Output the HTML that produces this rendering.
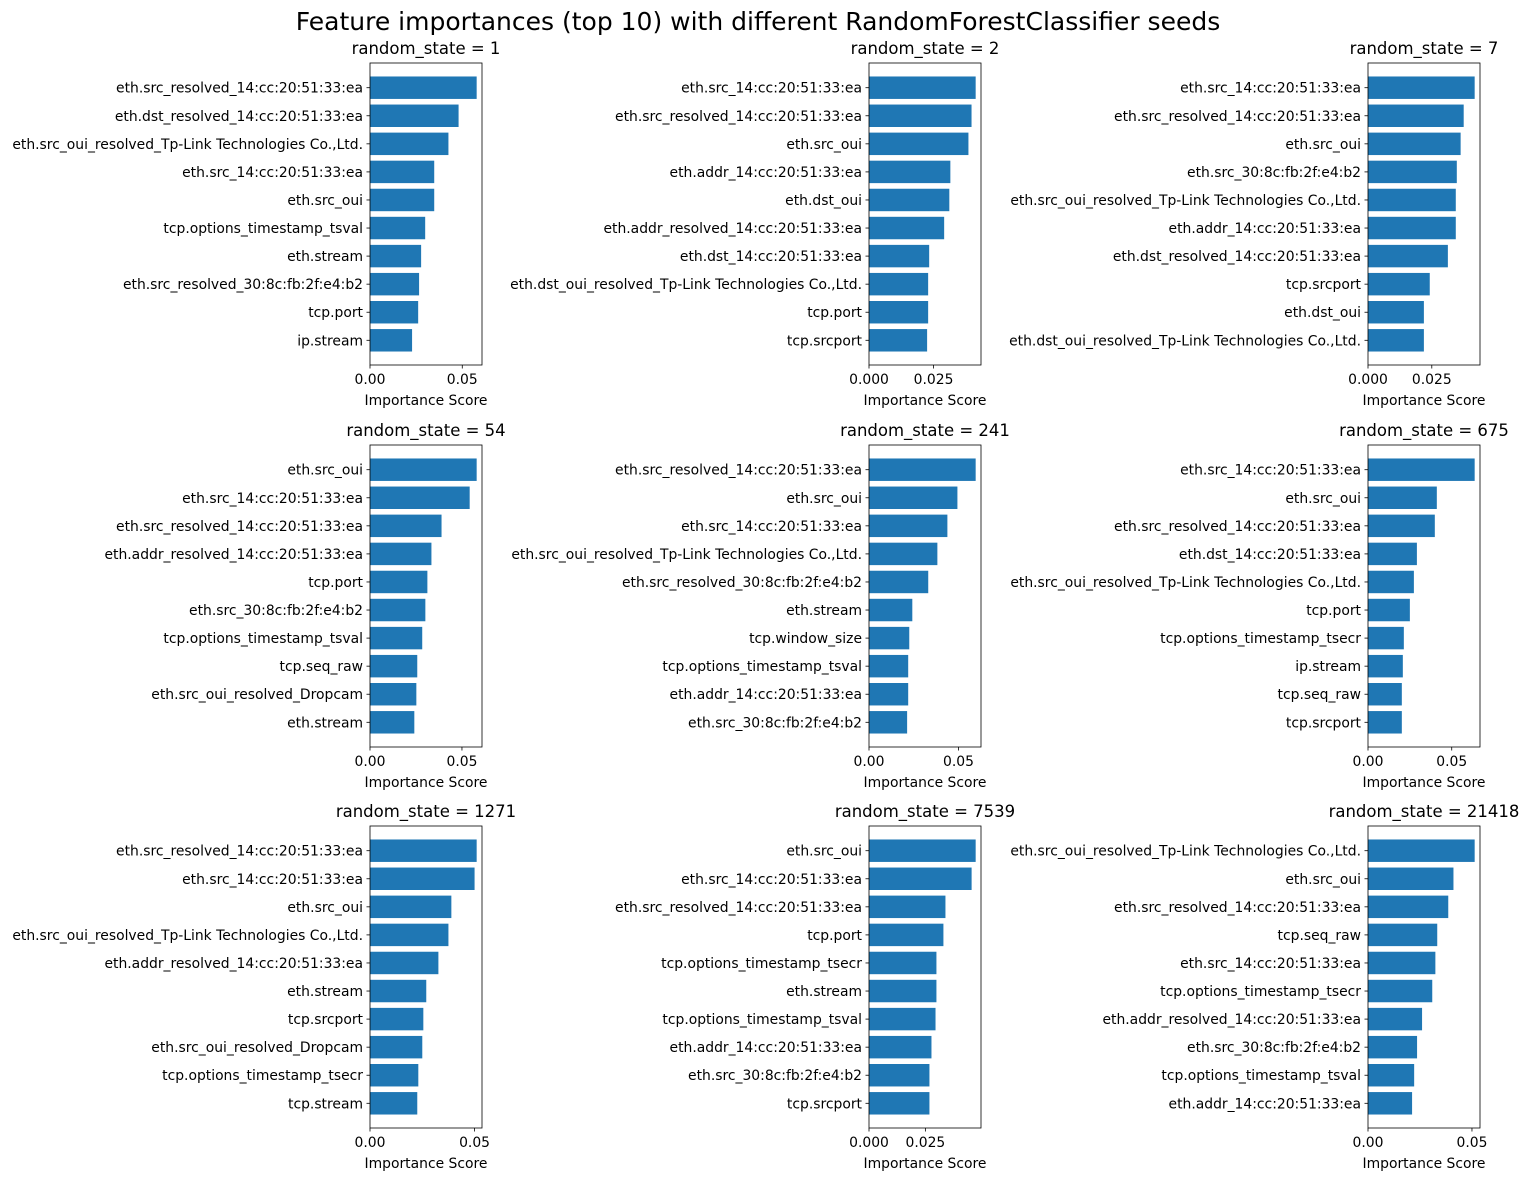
<!DOCTYPE html>
<html><head><meta charset="utf-8"><style>
html,body{margin:0;padding:0;background:#fff;}
svg{display:block;font-family:"DejaVu Sans","Liberation Sans",sans-serif;}
</style></head><body>
<svg id="fig" width="1530" height="1181" viewBox="0 0 1530 1181" xmlns="http://www.w3.org/2000/svg">
<rect width="1530" height="1181" fill="#fff"/>
<text x="758" y="30" font-size="25" text-anchor="middle" fill="#000">Feature importances (top 10) with different RandomForestClassifier seeds</text>
</svg>
<script>
const seeds = [1,2,7,54,241,675,1271,7539,21418];
const labels1 = ["eth.src_resolved_14:cc:20:51:33:ea","eth.dst_resolved_14:cc:20:51:33:ea","eth.src_oui_resolved_Tp-Link Technologies Co.,Ltd.","eth.src_14:cc:20:51:33:ea","eth.src_oui","tcp.options_timestamp_tsval","eth.stream","eth.src_resolved_30:8c:fb:2f:e4:b2","tcp.port","ip.stream"];
const values1 = [0.0578,0.0480,0.0425,0.0348,0.0348,0.0299,0.0277,0.0266,0.0261,0.0228];
const labels2 = ["eth.src_14:cc:20:51:33:ea","eth.src_resolved_14:cc:20:51:33:ea","eth.src_oui","eth.addr_14:cc:20:51:33:ea","eth.dst_oui","eth.addr_resolved_14:cc:20:51:33:ea","eth.dst_14:cc:20:51:33:ea","eth.dst_oui_resolved_Tp-Link Technologies Co.,Ltd.","tcp.port","tcp.srcport"];
const values2 = [0.0413,0.0397,0.0385,0.0315,0.0311,0.0291,0.0233,0.0229,0.0229,0.0225];
const labels3 = ["eth.src_14:cc:20:51:33:ea","eth.src_resolved_14:cc:20:51:33:ea","eth.src_oui","eth.src_30:8c:fb:2f:e4:b2","eth.src_oui_resolved_Tp-Link Technologies Co.,Ltd.","eth.addr_14:cc:20:51:33:ea","eth.dst_resolved_14:cc:20:51:33:ea","tcp.srcport","eth.dst_oui","eth.dst_oui_resolved_Tp-Link Technologies Co.,Ltd."];
const values3 = [0.0418,0.0375,0.0363,0.0348,0.0344,0.0344,0.0313,0.0242,0.0219,0.0219];
const labels4 = ["eth.src_oui","eth.src_14:cc:20:51:33:ea","eth.src_resolved_14:cc:20:51:33:ea","eth.addr_resolved_14:cc:20:51:33:ea","tcp.port","eth.src_30:8c:fb:2f:e4:b2","tcp.options_timestamp_tsval","tcp.seq_raw","eth.src_oui_resolved_Dropcam","eth.stream"];
const values4 = [0.0580,0.0542,0.0389,0.0334,0.0312,0.0301,0.0284,0.0257,0.0252,0.0241];
const labels5 = ["eth.src_resolved_14:cc:20:51:33:ea","eth.src_oui","eth.src_14:cc:20:51:33:ea","eth.src_oui_resolved_Tp-Link Technologies Co.,Ltd.","eth.src_resolved_30:8c:fb:2f:e4:b2","eth.stream","tcp.window_size","tcp.options_timestamp_tsval","eth.addr_14:cc:20:51:33:ea","eth.src_30:8c:fb:2f:e4:b2"];
const values5 = [0.0596,0.0494,0.0438,0.0382,0.0331,0.0242,0.0225,0.0219,0.0219,0.0213];
const labels6 = ["eth.src_14:cc:20:51:33:ea","eth.src_oui","eth.src_resolved_14:cc:20:51:33:ea","eth.dst_14:cc:20:51:33:ea","eth.src_oui_resolved_Tp-Link Technologies Co.,Ltd.","tcp.port","tcp.options_timestamp_tsecr","ip.stream","tcp.seq_raw","tcp.srcport"];
const values6 = [0.0637,0.0411,0.0399,0.0292,0.0274,0.0250,0.0214,0.0208,0.0202,0.0202];
const labels7 = ["eth.src_resolved_14:cc:20:51:33:ea","eth.src_14:cc:20:51:33:ea","eth.src_oui","eth.src_oui_resolved_Tp-Link Technologies Co.,Ltd.","eth.addr_resolved_14:cc:20:51:33:ea","eth.stream","tcp.srcport","eth.src_oui_resolved_Dropcam","tcp.options_timestamp_tsecr","tcp.stream"];
const values7 = [0.0510,0.0500,0.0389,0.0375,0.0327,0.0269,0.0255,0.0250,0.0231,0.0226];
const labels8 = ["eth.src_oui","eth.src_14:cc:20:51:33:ea","eth.src_resolved_14:cc:20:51:33:ea","tcp.port","tcp.options_timestamp_tsecr","eth.stream","tcp.options_timestamp_tsval","eth.addr_14:cc:20:51:33:ea","eth.src_30:8c:fb:2f:e4:b2","tcp.srcport"];
const values8 = [0.0473,0.0455,0.0339,0.0330,0.0299,0.0299,0.0295,0.0277,0.0268,0.0268];
const labels9 = ["eth.src_oui_resolved_Tp-Link Technologies Co.,Ltd.","eth.src_oui","eth.src_resolved_14:cc:20:51:33:ea","tcp.seq_raw","eth.src_14:cc:20:51:33:ea","tcp.options_timestamp_tsecr","eth.addr_resolved_14:cc:20:51:33:ea","eth.src_30:8c:fb:2f:e4:b2","tcp.options_timestamp_tsval","eth.addr_14:cc:20:51:33:ea"];
const values9 = [0.0513,0.0411,0.0386,0.0333,0.0324,0.0309,0.0260,0.0236,0.0222,0.0212];
const ticksA = [0, 0.05];
const ticksB = [0, 0.025];
const tickLabelsA = ["0.00","0.05"];
const tickLabelsB = ["0.000","0.025"];

const allLabels=[labels1,labels2,labels3,labels4,labels5,labels6,labels7,labels8,labels9];
const allValues=[values1,values2,values3,values4,values5,values6,values7,values8,values9];
const tickSel=[0,1,1,0,0,0,0,1,0];
const NS="http://www.w3.org/2000/svg";
const fig=document.getElementById('fig');
const colX=[370,869,1368], rowY=[63,445,826], W=112, H=302;
function mk(tag,attrs,parent){const e=document.createElementNS(NS,tag);for(const k in attrs)e.setAttribute(k,attrs[k]);parent.appendChild(e);return e;}
for(let p=0;p<9;p++){
  const L=colX[p%3], T=rowY[Math.floor(p/3)];
  const vals=allValues[p], labs=allLabels[p];
  const xmax=Math.max(...vals)*1.05;
  const xs=v=>L+v/xmax*W;
  const n=vals.length, ymin=-0.4-0.049*(n-1+0.8), ymax=n-1+0.4+0.049*(n-1+0.8);
  const ys=i=>T+(i-ymin)/(ymax-ymin)*H;
  const g=mk('g',{},fig);
  
  
  const t=mk('text',{x:L+W/2,y:T-9,'font-size':16.5,'text-anchor':'middle',fill:'#000'},g);
  t.textContent='random_state = '+seeds[p];
  
  
  for(let i=0;i<n;i++){
    const r=mk('rect',{x:xs(0),y:ys(i-0.4),width:xs(vals[i])-xs(0),height:ys(i+0.4)-ys(i-0.4),fill:'#1f77b4'},g);
    
    
    mk('line',{x1:L,x2:L-3.5,y1:ys(i),y2:ys(i),stroke:'#000','stroke-width':0.8},g);
    const lt=mk('text',{x:L-7,y:ys(i)+5,'font-size':13.9,'text-anchor':'end',fill:'#000'},g);
    lt.textContent=labs[i];
    
    
  }
  const tk=tickSel[p]?ticksB:ticksA, tl=tickSel[p]?tickLabelsB:tickLabelsA;
  for(let j=0;j<tk.length;j++){
    mk('line',{x1:xs(tk[j]),x2:xs(tk[j]),y1:T+H,y2:T+H+3.5,stroke:'#000','stroke-width':0.8},g);
    const xt=mk('text',{x:xs(tk[j]),y:T+H+19,'font-size':13.9,'text-anchor':'middle',fill:'#000'},g);
    xt.textContent=tl[j];
    
    
  }
  const xl=mk('text',{x:L+W/2,y:T+H+40,'font-size':13.9,'text-anchor':'middle',fill:'#000'},g);
  xl.textContent='Importance Score';
  
  
  const fr=mk('rect',{x:L,y:T,width:W,height:H,fill:'none',stroke:'#000','stroke-width':0.8},g);
  
  
}
</script>
</body></html>
